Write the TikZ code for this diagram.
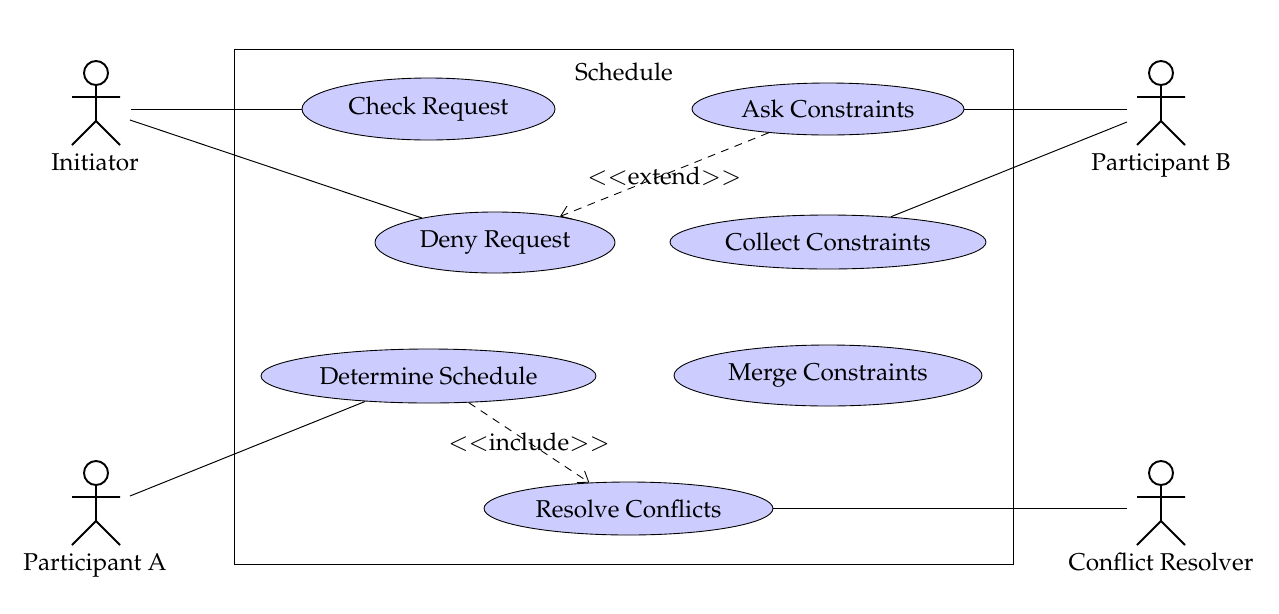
\documentclass[tikz,border=0pt]{standalone}
\usepackage[T1]{fontenc}
\usepackage{mathpazo}
\usetikzlibrary{shapes.geometric,arrows.meta}

\tikzset{
    usecase/.style={draw, ellipse, fill=blue!20, inner sep=0pt, line width=0.5pt},
    depend/.style={dash pattern=on 4.5pt off 3.7pt, line width=0.5pt, -{Straight Barb[length=5.5pt,width=8pt]}},
    assoc/.style={line width=0.55pt},
    actorname/.style={anchor=base},
    actorman/.pic={
        \draw[line width=1.1pt] (0,0) circle (12);
        \draw[line width=1.1pt] (0,12) -- (0,48) (-24,24) -- (24,24) (-24,72) -- (0,48) -- (24,72);
    }
}

\begin{document}
\begin{tikzpicture}[x=0.02cm, y=-0.02cm, font=\fontsize{13.85}{16}\selectfont]
    \useasboundingbox (0,0) rectangle (1279,613);
    \draw[line width=0.55pt] (234,49) rectangle (1013,564);
    \node (title) at (624,72) {Schedule};

    \node[usecase, minimum width=253*0.02cm, minimum height=62*0.02cm] (check) at (428.5,109) {Check Request};
    \node[usecase, minimum width=272*0.02cm, minimum height=52*0.02cm] (ask) at (828,109) {Ask Constraints};
    \node[usecase, minimum width=240*0.02cm, minimum height=61*0.02cm] (deny) at (495,242.5) {Deny Request};
    \node[usecase, minimum width=316*0.02cm, minimum height=54*0.02cm] (collect) at (828,242) {Collect Constraints};
    \node[usecase, minimum width=335*0.02cm, minimum height=54*0.02cm] (determine) at (428.5,376) {Determine Schedule};
    \node[usecase, minimum width=308*0.02cm, minimum height=61*0.02cm] (merge) at (828,375.5) {Merge Constraints};
    \node[usecase, minimum width=289*0.02cm, minimum height=53*0.02cm] (resolve) at (628.5,508.5) {Resolve Conflicts};

    \pic at (96,73) {actorman};
    \pic at (1161,73) {actorman};
    \pic at (96,473) {actorman};
    \pic at (1161,473) {actorman};
    \node[actorname] (initiator) at (95,170) {Initiator};
    \node[actorname] (partb) at (1161,170) {Participant B};
    \node[actorname] (parta) at (95,570) {Participant A};
    \node[actorname] (resolver) at (1161,570) {Conflict Resolver};

    \coordinate (initA) at (131,109);
    \coordinate (initB) at (130,120);
    \coordinate (partbA) at (1127,109);
    \coordinate (partbB) at (1127,122);
    \coordinate (partaA) at (130,496);
    \coordinate (resolverA) at (1127,508.5);

    \draw[assoc] (initA) -- (check);
    \draw[assoc] (initB) -- (deny);
    \draw[assoc] (partbA) -- (ask);
    \draw[assoc] (partbB) -- (collect);
    \draw[assoc] (partaA) -- (determine);
    \draw[assoc] (resolverA) -- (resolve);

    \draw[depend] (ask) -- (deny) node[pos=0.5, yshift=-0.03cm] (extend) {$<<$extend$>>$};
    \draw[depend] (determine) -- (resolve) node[pos=0.5] (include) {$<<$include$>>$};
\end{tikzpicture}
\end{document}
